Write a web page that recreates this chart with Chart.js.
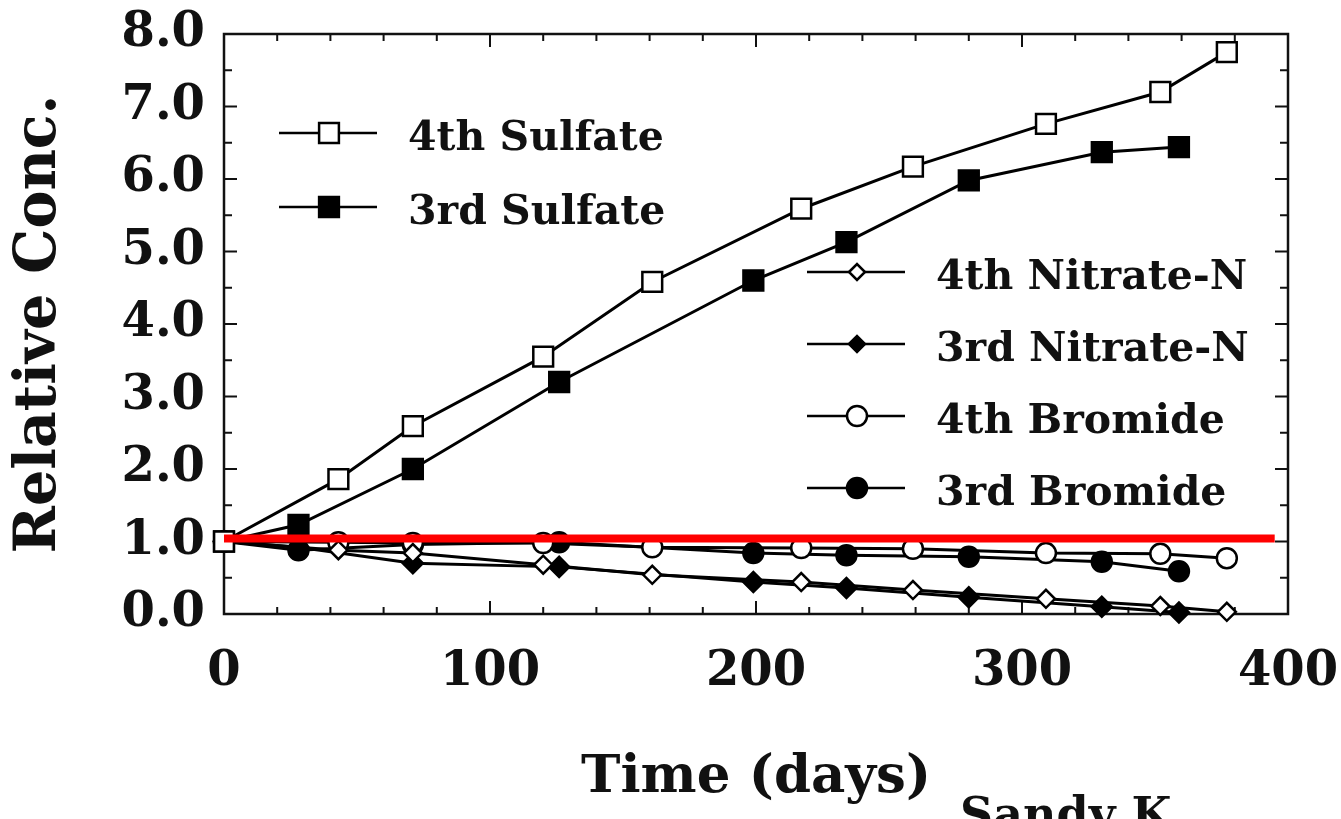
<!DOCTYPE html>
<html>
<head>
<meta charset="utf-8">
<title>Relative Conc. vs Time</title>
<script src="https://cdn.jsdelivr.net/npm/chart.js@4.4.1/dist/chart.umd.min.js"></script>
<style>
  html, body { margin: 0; padding: 0; background: #fff; }
  #wrap { position: relative; width: 1341px; height: 819px; }
</style>
</head>
<body>
<div id="wrap"><canvas id="chart"></canvas></div>
<script>
// sampling days of the two runs
const days4th = [0, 43, 71, 120, 161, 217, 259, 309, 352, 377];
const days3rd = [0, 28, 71, 126, 199, 234, 280, 330, 359];

// relative concentrations
const sulfate4th = [1.0, 1.86, 2.59, 3.55, 4.58, 5.59, 6.17, 6.76, 7.2, 7.75];
const sulfate3rd = [1.0, 1.23, 2.0, 3.2, 4.6, 5.13, 5.98, 6.37, 6.44];
const nitrate4th = [1.0, 0.88, 0.84, 0.68, 0.54, 0.44, 0.33, 0.21, 0.11, 0.03];
const nitrate3rd = [1.0, 0.92, 0.70, 0.65, 0.44, 0.36, 0.23, 0.10, 0.02];
const bromide4th = [1.0, 0.99, 0.98, 0.98, 0.92, 0.91, 0.90, 0.84, 0.83, 0.77];
const bromide3rd = [1.0, 0.88, 0.96, 0.99, 0.84, 0.81, 0.79, 0.72, 0.59];

// red reference line
const refDays = [0, 395];
const refLevel = [1.04, 1.04];

// axes
const xRange = [0, 400];
const yRange = [0, 8];
const xMajorStep = 100;
const xMinorStep = 20;
const yMajorStep = 1;
const yMinorStep = 0.5;

const FONT = "'DejaVu Serif', 'Liberation Serif', serif";
const INK = '#111';

function pts(days, vals) { return days.map((d, i) => ({ x: d, y: vals[i] })); }

const series = [
  { label: '4th Sulfate', days: days4th, values: sulfate4th, style: 'rect', r: 14, lr: 14, filled: false },
  { label: '3rd Sulfate', days: days3rd, values: sulfate3rd, style: 'rect', r: 14, lr: 14, filled: true },
  { label: '4th Nitrate-N', days: days4th, values: nitrate4th, style: 'rectRot', r: 9, lr: 8, filled: false },
  { label: '3rd Nitrate-N', days: days3rd, values: nitrate3rd, style: 'rectRot', r: 10, lr: 8, filled: true },
  { label: '4th Bromide', days: days4th, values: bromide4th, style: 'circle', r: 10, lr: 10, filled: false },
  { label: '3rd Bromide', days: days3rd, values: bromide3rd, style: 'circle', r: 10, lr: 10, filled: true }
];

function drawMarker(ctx, style, x, y, r, filled) {
  ctx.save();
  ctx.beginPath();
  if (style === 'rect') {
    const h = r * Math.SQRT1_2;
    ctx.rect(x - h, y - h, 2 * h, 2 * h);
  } else if (style === 'rectRot') {
    ctx.moveTo(x - r, y); ctx.lineTo(x, y - r); ctx.lineTo(x + r, y); ctx.lineTo(x, y + r);
    ctx.closePath();
  } else {
    ctx.arc(x, y, r, 0, Math.PI * 2);
  }
  ctx.fillStyle = filled ? '#000' : '#fff';
  ctx.fill();
  ctx.lineWidth = 2.5;
  ctx.strokeStyle = '#000';
  ctx.stroke();
  ctx.restore();
}

// frame with inward ticks on all four sides
const frameTicks = {
  id: 'frameTicks',
  beforeDatasetsDraw(chart) {
    const { ctx, chartArea: a, scales: { x, y } } = chart;
    ctx.save();
    ctx.strokeStyle = INK;
    ctx.lineWidth = 2.5;
    ctx.strokeRect(a.left, a.top, a.right - a.left, a.bottom - a.top);
    ctx.lineWidth = 2;
    ctx.beginPath();
    for (let d = xRange[0]; d <= xRange[1]; d += xMinorStep) {
      const px = x.getPixelForValue(d);
      const len = d % xMajorStep === 0 ? 13 : 7;
      ctx.moveTo(px, a.bottom); ctx.lineTo(px, a.bottom - len);
      ctx.moveTo(px, a.top); ctx.lineTo(px, a.top + len);
    }
    for (let v = yRange[0]; v <= yRange[1] + 1e-9; v += yMinorStep) {
      const py = y.getPixelForValue(v);
      const len = Math.abs(v % yMajorStep) < 1e-9 ? 13 : 8;
      ctx.moveTo(a.left, py); ctx.lineTo(a.left + len, py);
      ctx.moveTo(a.right, py); ctx.lineTo(a.right - len, py);
    }
    ctx.stroke();
    ctx.restore();
  }
};

// two legend blocks placed inside the plot
const legendGroups = [
  { x: 279, y: 133, gap: 74, items: [0, 1] },
  { x: 807, y: 272, gap: 72, items: [2, 3, 4, 5] }
];

const insideLegend = {
  id: 'insideLegend',
  afterDraw(chart) {
    const ctx = chart.ctx;
    ctx.save();
    ctx.font = 'bold 41px ' + FONT;
    ctx.fillStyle = INK;
    ctx.textBaseline = 'alphabetic';
    legendGroups.forEach(g => {
      g.items.forEach((idx, k) => {
        const s = series[idx];
        const y = g.y + k * g.gap;
        ctx.beginPath();
        ctx.lineWidth = 2.5;
        ctx.strokeStyle = '#000';
        ctx.moveTo(g.x, y); ctx.lineTo(g.x + 98, y);
        ctx.stroke();
        drawMarker(ctx, s.style, g.x + 50, y, s.lr, s.filled);
        ctx.fillText(s.label, g.x + 129, y + 17);
      });
    });
    // partly cut caption at the bottom edge
    ctx.font = 'bold 46px ' + FONT;
    ctx.fillText('Sandy K', 960, 830);
    ctx.restore();
  }
};

const datasets = series.map(s => ({
  label: s.label,
  data: pts(s.days, s.values),
  borderColor: '#000',
  borderWidth: 3,
  backgroundColor: s.filled ? '#000' : '#fff',
  pointStyle: s.style,
  pointRadius: s.r,
  pointBorderWidth: 2.5,
  pointBorderColor: '#000',
  pointBackgroundColor: s.filled ? '#000' : '#fff',
  tension: 0,
  clip: false
}));

datasets.push({
  label: 'reference',
  data: pts(refDays, refLevel),
  borderColor: '#ff0000',
  borderWidth: 8,
  pointRadius: 0,
  tension: 0,
  order: -1,
  clip: false
});

new Chart(document.getElementById('chart'), {
  type: 'line',
  data: { datasets },
  options: {
    responsive: true,
    maintainAspectRatio: false,
    animation: false,
    layout: { padding: { top: 34, right: 53, left: 0, bottom: 0 } },
    plugins: { legend: { display: false }, tooltip: { enabled: false } },
    scales: {
      x: {
        type: 'linear', min: xRange[0], max: xRange[1],
        afterFit(s) { s.height = 205; s.paddingLeft = 0; s.paddingRight = 0; },
        grid: { display: false, drawTicks: false },
        border: { display: false },
        ticks: { stepSize: xMajorStep, padding: 30, color: INK, font: { family: FONT, size: 48, weight: 'bold' } },
        title: { display: true, text: 'Time (days)', color: INK, padding: { top: 0, bottom: 9 }, font: { family: FONT, size: 53, weight: 'bold' } }
      },
      y: {
        type: 'linear', min: yRange[0], max: yRange[1],
        afterFit(s) { s.width = 224; s.paddingTop = 0; s.paddingBottom = 0; },
        grid: { display: false, drawTicks: false },
        border: { display: false },
        ticks: { stepSize: yMajorStep, padding: 19, color: INK, callback: v => v.toFixed(1), font: { family: FONT, size: 48, weight: 'bold' } },
        title: { display: true, text: 'Relative Conc.', color: INK, padding: { top: 6, bottom: 0 }, font: { family: FONT, size: 57, weight: 'bold' } }
      }
    }
  },
  plugins: [frameTicks, insideLegend]
});
</script>
</body>
</html>
